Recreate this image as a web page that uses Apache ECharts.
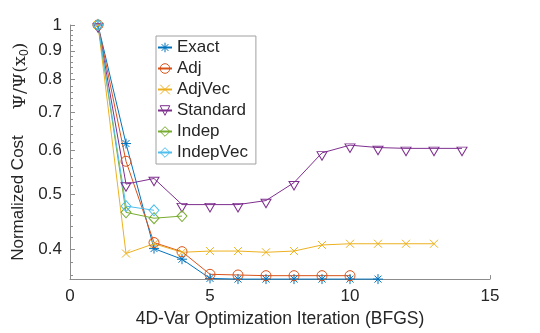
<!DOCTYPE html>
<html>
<head>
<meta charset="utf-8">
<script src="https://cdn.jsdelivr.net/npm/echarts@6/dist/echarts.min.js"></script>
<style>
  html, body { margin: 0; padding: 0; background: #fff; }
  #costChart { width: 540px; height: 333px; }
</style>
</head>
<body>
<div id="costChart"></div>
<script>
// iteration numbers (x) shared by every method
var iterations = [1, 2, 3, 4, 5, 6, 7, 8, 9, 10, 11, 12, 13, 14]

// normalized cost per method
var exactCost = [1, 0.616, 0.401, 0.384, 0.355, 0.354, 0.354, 0.354, 0.354, 0.354, 0.354]
var adjCost = [1, 0.573, 0.411, 0.396, 0.361, 0.360, 0.359, 0.359, 0.359, 0.359]
var adjVecCost = [1, 0.393, 0.409, 0.395, 0.397, 0.397, 0.395, 0.397, 0.407, 0.409, 0.409, 0.409, 0.409]
var standardCost = [1, 0.522, 0.534, 0.480, 0.480, 0.480, 0.488, 0.525, 0.593, 0.612, 0.606, 0.604, 0.604, 0.604]
var indepCost = [1, 0.465, 0.454, 0.458]
var indepVecCost = [1, 0.477, 0.469]

// axis ticks
var xTicks = [0, 5, 10, 15]
var yTicks = [0.4, 0.5, 0.6, 0.7, 0.8, 0.9, 1]
var yMinorTicks = [0.36, 0.38, 0.42, 0.44, 0.46, 0.48, 0.52, 0.54, 0.56, 0.58,
  0.62, 0.64, 0.66, 0.68, 0.72, 0.74, 0.76, 0.78, 0.82, 0.84, 0.86, 0.88,
  0.92, 0.94, 0.96, 0.98]
var yMin = 0.354
var yMax = 1

var textColor = '#262626'
var axisGray = '#8c8c8c'
var font = 'Liberation Sans, Arial, Helvetica, sans-serif'

function pairs(values) {
  return values.map(function(v, i) { return [iterations[i], v] })
}

function makeSeries(name, values, color, symbol, size, offset) {
  return {
    name: name,
    type: 'line',
    data: pairs(values),
    yAxisIndex: 0,
    symbol: symbol,
    symbolSize: size,
    symbolOffset: offset || [0, 0],
    showSymbol: true,
    clip: false,
    lineStyle: { color: color, width: 1 },
    itemStyle: { color: 'transparent', borderColor: color, borderWidth: 1 },
    emphasis: { disabled: true }
  }
}

var chartDom = document.getElementById('costChart')
var myChart = echarts.init(chartDom, null, { renderer: 'canvas' })

var option = {
  animation: false,
  textStyle: { fontFamily: font },
  grid: { left: 70, right: 50, top: 25, bottom: 48, show: false },
  legend: {
    orient: 'vertical',
    left: 156,
    top: 36,
    padding: [3, 8, 3, 1],
    itemGap: 4,
    itemWidth: 14,
    itemHeight: 12,
    backgroundColor: '#fff',
    borderColor: '#a0a0a0',
    borderWidth: 1,
    itemStyle: { color: 'transparent', borderWidth: 1 },
    textStyle: { fontSize: 17, lineHeight: 17, color: textColor, fontFamily: font },
    data: ['Exact', 'Adj', 'AdjVec', 'Standard', 'Indep', 'IndepVec']
  },
  xAxis: {
    type: 'value',
    min: xTicks[0],
    max: xTicks[xTicks.length - 1],
    interval: 5,
    name: '4D-Var Optimization Iteration (BFGS)',
    nameLocation: 'middle',
    nameGap: 30,
    nameTextStyle: { fontSize: 17.5, color: textColor, fontFamily: font },
    axisLine: { onZero: false, lineStyle: { color: axisGray, width: 1 } },
    axisTick: { inside: true, length: 4, lineStyle: { color: axisGray } },
    axisLabel: { fontSize: 17, color: textColor, margin: 9, fontFamily: font },
    splitLine: { show: false }
  },
  yAxis: [
    {
      // log scale that carries the data
      type: 'log',
      logBase: 10,
      min: yMin,
      max: yMax,
      position: 'left',
      axisLine: { show: true, onZero: false, lineStyle: { color: axisGray, width: 1 } },
      axisTick: { show: false },
      axisLabel: { show: false },
      minorTick: { show: false },
      splitLine: { show: false }
    },
    {
      // major ticks + labels at log positions
      type: 'value',
      min: Math.log10(yMin),
      max: Math.log10(yMax),
      position: 'left',
      axisLine: { show: false, onZero: false },
      axisTick: {
        inside: true,
        length: 5,
        lineStyle: { color: axisGray },
        customValues: yTicks.map(function(v) { return Math.log10(v) })
      },
      axisLabel: {
        fontSize: 17,
        color: textColor,
        margin: 8,
        fontFamily: font,
        customValues: yTicks.map(function(v) { return Math.log10(v) }),
        formatter: function(v) { return String(+Math.pow(10, v).toFixed(2)) }
      },
      splitLine: { show: false }
    },
    {
      // minor ticks
      type: 'value',
      min: Math.log10(yMin),
      max: Math.log10(yMax),
      position: 'left',
      axisLine: { show: false, onZero: false },
      axisTick: {
        inside: true,
        length: 3,
        lineStyle: { color: axisGray },
        customValues: yMinorTicks.map(function(v) { return Math.log10(v) })
      },
      axisLabel: { show: false },
      splitLine: { show: false }
    }
  ],
  graphic: [
    {
      type: 'text',
      x: 18,
      y: 198,
      rotation: Math.PI / 2,
      style: {
        text: 'Normalized Cost',
        font: '17px ' + font,
        fill: textColor,
        align: 'center',
        verticalAlign: 'middle'
      }
    },
    {
      type: 'text',
      x: 20,
      y: 76,
      rotation: Math.PI / 2,
      style: {
        text: '{a|Ψ/Ψ(x}{s|0}{a|)}',
        fill: textColor,
        align: 'center',
        verticalAlign: 'middle',
        rich: {
          a: { fontSize: 17.5, lineHeight: 20, fontFamily: 'DejaVu Serif, Liberation Serif, serif', fill: textColor },
          s: { fontSize: 12, lineHeight: 12, padding: [10, 0, 0, 0], fontFamily: font, fill: textColor }
        }
      }
    }
  ],
  series: [
    makeSeries('Exact', exactCost, '#0072BD',
      'path://M5,0L5,10M0,5L10,5M1.5,1.5L8.5,8.5M1.5,8.5L8.5,1.5', 10),
    makeSeries('Adj', adjCost, '#D95319', 'circle', 10),
    makeSeries('AdjVec', adjVecCost, '#EDB120', 'path://M0,0L10,10M0,10L10,0', 8),
    makeSeries('Standard', standardCost, '#7E2F8E', 'path://M0,0L10,0L5,8.66Z', [10, 8.5], [0, 3]),
    makeSeries('Indep', indepCost, '#77AC30', 'diamond', [10, 11]),
    makeSeries('IndepVec', indepVecCost, '#4DBEEE', 'diamond', [10, 11])
  ]
}

option && myChart.setOption(option)
</script>
</body>
</html>
